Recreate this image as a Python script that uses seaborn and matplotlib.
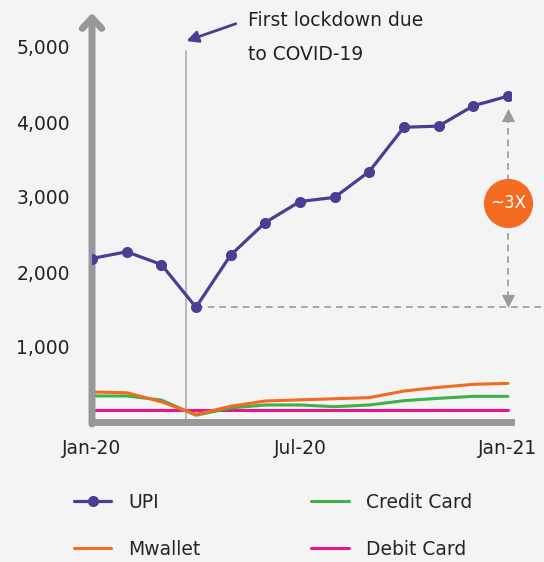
import matplotlib
matplotlib.use("Agg")
import matplotlib.pyplot as plt
import numpy as np
import pandas as pd
import seaborn as sns


months = ["Jan-20", "Feb-20", "Mar-20", "Apr-20", "May-20", "Jun-20", "Jul-20",
          "Aug-20", "Sep-20", "Oct-20", "Nov-20", "Dec-20", "Jan-21"]
upi = [2180, 2270, 2100, 1530, 2225, 2660, 2940, 2995, 3340, 3930, 3945, 4215, 4345]
mwallet = [400, 390, 270, 100, 210, 280, 295, 310, 325, 413, 462, 502, 515]
credit_card = [347, 347, 293, 90, 187, 227, 227, 204, 227, 284, 316, 342, 342]
debit_card = [160, 160, 160, 160, 160, 160, 160, 160, 160, 160, 160, 160, 160]

tick_positions = [0, 6, 12]
tick_labels = ["Jan-20", "Jul-20", "Jan-21"]
y_ticks = [1000, 2000, 3000, 4000, 5000]

LOCKDOWN_X = 2.7
BG = "#f4f4f4"
AXIS_GRAY = "#98989b"
TEXT = "#222222"
FS = 13.5
COLORS = {"UPI": "#4a3d94", "Mwallet": "#f26b21",
          "Credit Card": "#3fb04a", "Debit Card": "#e6178a"}

df = pd.DataFrame({
    "month": np.arange(len(months)),
    "UPI": upi,
    "Mwallet": mwallet,
    "Credit Card": credit_card,
    "Debit Card": debit_card,
})
long_df = df.melt(id_vars="month", var_name="mode", value_name="value")

sns.set_style("white")
plt.rcParams["font.family"] = ["DejaVu Sans"]

fig = plt.figure(figsize=(5.44, 5.62), dpi=100, facecolor=BG)
ax = fig.add_axes([92 / 544, 140 / 562, 419 / 544, 405 / 562], facecolor=BG)

# lockdown marker line
ax.plot([LOCKDOWN_X, LOCKDOWN_X], [0, 4950], color="#b3b3b5", lw=1.3, zorder=1)

for mode in ["Debit Card", "Credit Card", "Mwallet"]:
    sns.lineplot(data=long_df[long_df["mode"] == mode], x="month", y="value",
                 color=COLORS[mode], lw=2.2, ax=ax, label=mode, zorder=3)
sns.lineplot(data=long_df[long_df["mode"] == "UPI"], x="month", y="value",
             color=COLORS["UPI"], lw=2.3, marker="o", markersize=8,
             markeredgewidth=0, ax=ax, label="UPI", zorder=4)

ax.set_xlim(0, 12.09)
ax.set_ylim(0, 5400)
ax.set_xticks(tick_positions)
ax.set_xticklabels(tick_labels)
ax.set_yticks(y_ticks)
ax.set_yticklabels([f"{v:,}" for v in y_ticks])
ax.set_xlabel("")
ax.set_ylabel("")
ax.tick_params(axis="y", length=6, width=1, color=AXIS_GRAY, pad=10,
               labelsize=FS, labelcolor=TEXT, direction="out")
ax.tick_params(axis="x", length=0, pad=12, labelsize=FS, labelcolor=TEXT)

for side in ["top", "right", "left"]:
    ax.spines[side].set_visible(False)
ax.spines["bottom"].set_color(AXIS_GRAY)
ax.spines["bottom"].set_linewidth(5)

# y axis with arrow head
ax.annotate("", xy=(0, 1.01), xytext=(0, -0.005), xycoords="axes fraction",
            arrowprops=dict(arrowstyle="->,head_length=0.75,head_width=0.7",
                            color=AXIS_GRAY, lw=5, shrinkA=0, shrinkB=0),
            annotation_clip=False)

# lockdown note
ax.annotate("", xy=(2.72, 5080), xytext=(4.15, 5310),
            arrowprops=dict(arrowstyle="-|>,head_length=0.7,head_width=0.35",
                            color=COLORS["UPI"], lw=2, shrinkA=0, shrinkB=0),
            annotation_clip=False)
ax.text(4.5, 5360, "First lockdown due", fontsize=FS, color=TEXT,
        va="center", ha="left", clip_on=False)
ax.text(4.5, 4905, "to COVID-19", fontsize=FS, color=TEXT,
        va="center", ha="left", clip_on=False)

# growth markers
ax.plot([3, 13], [upi[3], upi[3]], ls=(0, (4, 3)), color="#9b9b9b", lw=1.2,
        clip_on=False, zorder=2)
ax.plot([12, 12], [1650, 4070], ls=(0, (4, 3)), color="#9b9b9b", lw=1.2,
        clip_on=False, zorder=2)
ax.scatter([12], [4100], marker="^", s=90, color="#9b9b9b", linewidths=0,
           zorder=2, clip_on=False)
ax.scatter([12], [1620], marker="v", s=90, color="#9b9b9b", linewidths=0,
           zorder=2, clip_on=False)
ax.scatter([12], [2920], s=1250, color="#f26b21", linewidths=0, zorder=5,
           clip_on=False)
ax.text(12, 2920, "~3X", color="white", fontsize=12, ha="center", va="center",
        zorder=6)

handles, labels = ax.get_legend_handles_labels()
order = ["UPI", "Mwallet", "Credit Card", "Debit Card"]
hmap = dict(zip(labels, handles))
ax.get_legend().remove()
fig.legend([hmap[k] for k in order], order, loc="upper left",
           bbox_to_anchor=(57 / 544, 1 - 476 / 562), ncol=2, frameon=False,
           fontsize=FS, handlelength=2.0, columnspacing=5.9,
           labelspacing=1.5, handletextpad=0.9)

fig.savefig("out.png", dpi=100, facecolor=BG)
